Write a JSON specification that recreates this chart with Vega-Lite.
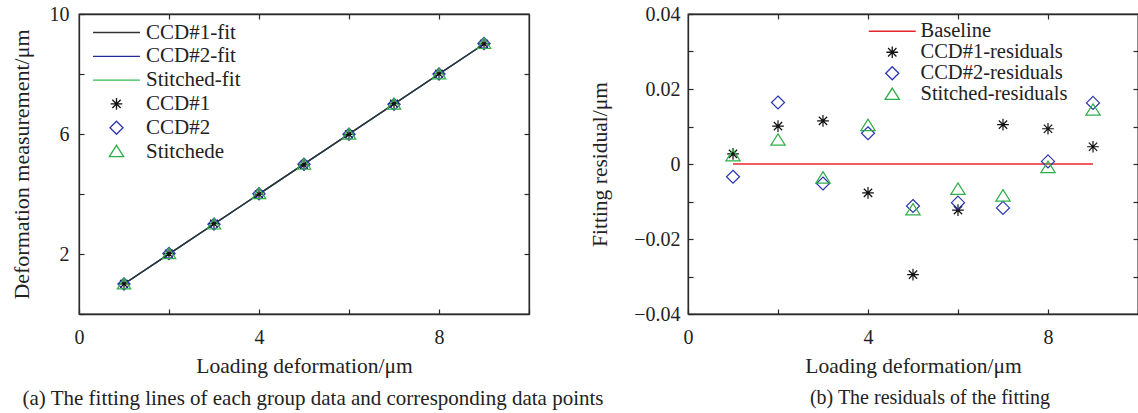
{
  "$schema": "https://vega.github.io/schema/vega-lite/v6.json",
  "background": "white",
  "padding": {"left": 9, "top": 3, "right": 0, "bottom": 0},
  "bounds": "flush",
  "spacing": 159,
  "config": {
    "view": {"stroke": "#2a2a2a", "strokeWidth": 1.3},
    "axis": {
      "grid": false, "tickSize": -5, "labelPadding": 15,
      "labelFont": "Liberation Serif", "labelFontSize": 20, "labelColor": "#222",
      "titleFont": "Liberation Serif", "titleFontSize": 21.5, "titleFontWeight": "normal", "titleColor": "#222",
      "tickColor": "#2a2a2a", "domainColor": "#2a2a2a", "domainWidth": 1.3, "tickWidth": 1.2,
      "labelFlush": false, "labelOverlap": false, "labelBound": false
    },
    "legend": {"labelFont": "Liberation Serif", "labelFontSize": 21, "labelColor": "#222"},
    "title": {"font": "Liberation Serif", "fontSize": 20, "fontWeight": "normal", "color": "#222"}
  },
  "datasets": {
    "fits": [
      {"series": "Stitched-fit", "x": 1, "y": 1.0},
      {"series": "Stitched-fit", "x": 9, "y": 9.0},
      {"series": "CCD#2-fit", "x": 1, "y": 1.0},
      {"series": "CCD#2-fit", "x": 9, "y": 9.0},
      {"series": "CCD#1-fit", "x": 1, "y": 1.0},
      {"series": "CCD#1-fit", "x": 9, "y": 9.0}
    ],
    "meas": [
      {"series": "CCD#1", "x": 1, "y": 1.003},
      {"series": "CCD#1", "x": 2, "y": 2.010},
      {"series": "CCD#1", "x": 3, "y": 3.012},
      {"series": "CCD#1", "x": 4, "y": 3.992},
      {"series": "CCD#1", "x": 5, "y": 4.970},
      {"series": "CCD#1", "x": 6, "y": 5.988},
      {"series": "CCD#1", "x": 7, "y": 7.011},
      {"series": "CCD#1", "x": 8, "y": 8.009},
      {"series": "CCD#1", "x": 9, "y": 9.005},
      {"series": "CCD#2", "x": 1, "y": 0.997},
      {"series": "CCD#2", "x": 2, "y": 2.016},
      {"series": "CCD#2", "x": 3, "y": 2.995},
      {"series": "CCD#2", "x": 4, "y": 4.008},
      {"series": "CCD#2", "x": 5, "y": 4.989},
      {"series": "CCD#2", "x": 6, "y": 5.990},
      {"series": "CCD#2", "x": 7, "y": 6.988},
      {"series": "CCD#2", "x": 8, "y": 8.001},
      {"series": "CCD#2", "x": 9, "y": 9.016},
      {"series": "Stitchede", "x": 1, "y": 1.002},
      {"series": "Stitchede", "x": 2, "y": 2.006},
      {"series": "Stitchede", "x": 3, "y": 2.996},
      {"series": "Stitchede", "x": 4, "y": 4.010},
      {"series": "Stitchede", "x": 5, "y": 4.988},
      {"series": "Stitchede", "x": 6, "y": 5.993},
      {"series": "Stitchede", "x": 7, "y": 6.992},
      {"series": "Stitchede", "x": 8, "y": 7.999},
      {"series": "Stitchede", "x": 9, "y": 9.014}
    ],
    "base": [
      {"series": "Baseline", "x": 1, "r": 0},
      {"series": "Baseline", "x": 9, "r": 0}
    ],
    "resid": [
      {"series": "CCD#1-residuals", "x": 1, "r": 0.0027},
      {"series": "CCD#1-residuals", "x": 2, "r": 0.0101},
      {"series": "CCD#1-residuals", "x": 3, "r": 0.0115},
      {"series": "CCD#1-residuals", "x": 4, "r": -0.0077},
      {"series": "CCD#1-residuals", "x": 5, "r": -0.0295},
      {"series": "CCD#1-residuals", "x": 6, "r": -0.0123},
      {"series": "CCD#1-residuals", "x": 7, "r": 0.0105},
      {"series": "CCD#1-residuals", "x": 8, "r": 0.0094},
      {"series": "CCD#1-residuals", "x": 9, "r": 0.0046},
      {"series": "CCD#2-residuals", "x": 1, "r": -0.0034},
      {"series": "CCD#2-residuals", "x": 2, "r": 0.0164},
      {"series": "CCD#2-residuals", "x": 3, "r": -0.0052},
      {"series": "CCD#2-residuals", "x": 4, "r": 0.0082},
      {"series": "CCD#2-residuals", "x": 5, "r": -0.0112},
      {"series": "CCD#2-residuals", "x": 6, "r": -0.0103},
      {"series": "CCD#2-residuals", "x": 7, "r": -0.0117},
      {"series": "CCD#2-residuals", "x": 8, "r": 0.0007},
      {"series": "CCD#2-residuals", "x": 9, "r": 0.0163},
      {"series": "Stitched-residuals", "x": 1, "r": 0.0022},
      {"series": "Stitched-residuals", "x": 2, "r": 0.0064},
      {"series": "Stitched-residuals", "x": 3, "r": -0.0037},
      {"series": "Stitched-residuals", "x": 4, "r": 0.0103},
      {"series": "Stitched-residuals", "x": 5, "r": -0.0122},
      {"series": "Stitched-residuals", "x": 6, "r": -0.0067},
      {"series": "Stitched-residuals", "x": 7, "r": -0.0085},
      {"series": "Stitched-residuals", "x": 8, "r": -0.0009},
      {"series": "Stitched-residuals", "x": 9, "r": 0.0144}
    ]
  },
  "resolve": {"scale": {"color": "independent", "shape": "independent"}, "legend": {"color": "independent", "shape": "independent"}},
  "hconcat": [
    {
      "width": 450,
      "height": 300,
      "title": {"text": "(a) The fitting lines of each group data and corresponding data points", "orient": "bottom", "anchor": "middle", "offset": 11, "dx": 9, "fontSize": 21},
      "layer": [
        {
          "data": {"name": "fits"},
          "mark": {"type": "line", "strokeWidth": 1.4},
          "encoding": {
            "x": {"field": "x", "type": "quantitative", "scale": {"domain": [0, 10], "nice": false, "zero": false},
                  "axis": {"orient": "bottom", "values": [0, 2, 4, 6, 8, 10], "labelExpr": "datum.value == 0 || datum.value == 4 || datum.value == 8 ? datum.label : ''", "title": "Loading deformation/μm", "titlePadding": 8, "labelPadding": 18}},
            "y": {"field": "y", "type": "quantitative", "scale": {"domain": [0, 10], "nice": false, "zero": false},
                  "axis": {"orient": "left", "values": [0, 2, 4, 6, 8, 10], "labelExpr": "datum.value == 2 || datum.value == 6 || datum.value == 10 ? datum.label : ''", "title": "Deformation measurement/μm", "titlePadding": 16, "titleFontSize": 22, "labelPadding": 15}},
            "color": {"field": "series", "type": "nominal",
                      "legend": {"orient": "none", "legendX": 27, "legendY": 8, "title": null, "symbolSize": 170, "symbolStrokeWidth": 1.3, "labelOffset": 19, "rowPadding": 1.8, "padding": 0, "symbolFillColor": "transparent"},
                      "scale": {"domain": ["CCD#1-fit", "CCD#2-fit", "Stitched-fit", "CCD#1", "CCD#2", "Stitchede"],
                                "range": ["#333333", "#1f2a9c", "#33bb55", "#111111", "#2b35b0", "#2fae48"]}}
          }
        },
        {
          "data": {"name": "meas"},
          "mark": {"type": "point", "filled": false, "size": 150, "strokeWidth": 1.2, "opacity": 1},
          "encoding": {
            "x": {"field": "x", "type": "quantitative",
                  "axis": {"orient": "top", "values": [2, 4, 6, 8], "labels": false, "title": null, "domain": true}},
            "y": {"field": "y", "type": "quantitative",
                  "axis": {"orient": "right", "values": [2, 4, 6, 8], "labels": false, "title": null, "domain": true}},
            "color": {"field": "series", "type": "nominal",
                      "legend": {"orient": "none", "legendX": 27, "legendY": 8, "title": null, "symbolSize": 170, "symbolStrokeWidth": 1.3, "labelOffset": 19, "rowPadding": 1.8, "padding": 0, "symbolFillColor": "transparent"}},
            "shape": {"field": "series", "type": "nominal",
                      "legend": {"orient": "none", "legendX": 27, "legendY": 8, "title": null, "symbolSize": 170, "symbolStrokeWidth": 1.3, "labelOffset": 19, "rowPadding": 1.8, "padding": 0, "symbolFillColor": "transparent"},
                      "scale": {"domain": ["CCD#1-fit", "CCD#2-fit", "Stitched-fit", "CCD#1", "CCD#2", "Stitchede"],
                                "range": ["M-3.6,0L3.6,0", "M-3.6,0L3.6,0", "M-3.6,0L3.6,0",
                                          "M-0.9,0L0.9,0M0,-0.9L0,0.9M-0.64,-0.64L0.64,0.64M-0.64,0.64L0.64,-0.64",
                                          "M0,-1L1,0L0,1L-1,0Z",
                                          "M0,-0.95L1.1,0.8L-1.1,0.8Z"]}}
          }
        }
      ]
    },
    {
      "width": 450,
      "height": 300,
      "title": {"text": "(b) The residuals of the fitting", "orient": "bottom", "anchor": "middle", "offset": 11, "dx": 17},
      "layer": [
        {
          "data": {"name": "base"},
          "mark": {"type": "line", "strokeWidth": 1.5},
          "encoding": {
            "x": {"field": "x", "type": "quantitative", "scale": {"domain": [0, 10], "nice": false, "zero": false},
                  "axis": {"orient": "bottom", "values": [0, 2, 4, 6, 8, 10], "labelExpr": "datum.value == 0 || datum.value == 4 || datum.value == 8 ? datum.label : ''", "title": "Loading deformation/μm", "titlePadding": 8, "labelPadding": 18}},
            "y": {"field": "r", "type": "quantitative", "scale": {"domain": [-0.04, 0.04], "nice": false, "zero": false},
                  "axis": {"orient": "left", "values": [-0.04, -0.03, -0.02, -0.01, 0, 0.01, 0.02, 0.03, 0.04], "labelExpr": "abs(round(datum.value * 100)) % 2 == 0 ? (datum.value == 0 ? '0' : (datum.value < 0 ? '−' : '') + format(abs(datum.value), '.2f')) : ''", "title": "Fitting residual/μm", "titlePadding": 22, "labelPadding": 13}},
            "color": {"field": "series", "type": "nominal",
                      "legend": {"orient": "none", "legendX": 194, "legendY": 7, "title": null, "symbolSize": 170, "symbolStrokeWidth": 1.3, "labelOffset": 18, "labelFontSize": 20.5, "rowPadding": 0, "padding": 0, "symbolFillColor": "transparent"},
                      "scale": {"domain": ["Baseline", "CCD#1-residuals", "CCD#2-residuals", "Stitched-residuals"],
                                "range": ["#e8242b", "#111111", "#2b35b0", "#2fae48"]}}
          }
        },
        {
          "data": {"name": "resid"},
          "mark": {"type": "point", "filled": false, "size": 170, "strokeWidth": 1.2, "opacity": 1},
          "encoding": {
            "x": {"field": "x", "type": "quantitative",
                  "axis": {"orient": "top", "values": [2, 4, 6, 8], "labels": false, "title": null}},
            "y": {"field": "r", "type": "quantitative",
                  "axis": {"orient": "right", "values": [-0.03, -0.02, -0.01, 0, 0.01, 0.02, 0.03], "labels": false, "title": null}},
            "color": {"field": "series", "type": "nominal",
                      "legend": {"orient": "none", "legendX": 194, "legendY": 7, "title": null, "symbolSize": 170, "symbolStrokeWidth": 1.3, "labelOffset": 18, "labelFontSize": 20.5, "rowPadding": 0, "padding": 0, "symbolFillColor": "transparent"}},
            "shape": {"field": "series", "type": "nominal",
                      "legend": {"orient": "none", "legendX": 194, "legendY": 7, "title": null, "symbolSize": 170, "symbolStrokeWidth": 1.3, "labelOffset": 18, "labelFontSize": 20.5, "rowPadding": 0, "padding": 0, "symbolFillColor": "transparent"},
                      "scale": {"domain": ["Baseline", "CCD#1-residuals", "CCD#2-residuals", "Stitched-residuals"],
                                "range": ["M-3.6,0L3.6,0",
                                          "M-0.9,0L0.9,0M0,-0.9L0,0.9M-0.64,-0.64L0.64,0.64M-0.64,0.64L0.64,-0.64",
                                          "M0,-1L1,0L0,1L-1,0Z",
                                          "M0,-0.95L1.1,0.8L-1.1,0.8Z"]}}
          }
        }
      ]
    }
  ]
}
